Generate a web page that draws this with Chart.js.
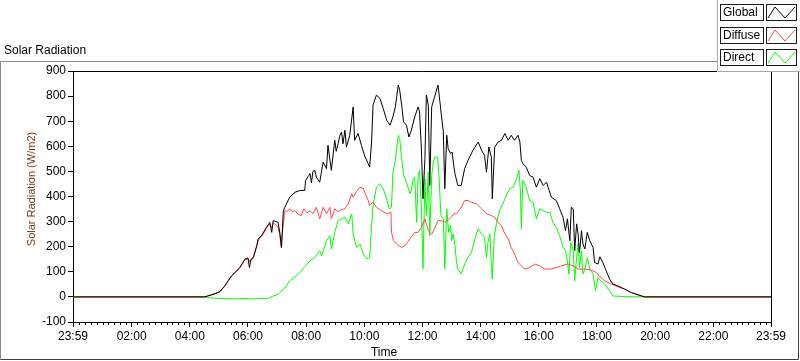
<!DOCTYPE html>
<html>
<head>
<meta charset="utf-8">
<script src="https://cdn.jsdelivr.net/npm/chart.js@4.4.1/dist/chart.umd.min.js"></script>
<style>
  html, body { margin: 0; padding: 0; background: #fff; }
  canvas { display: block; }
</style>
</head>
<body>
<canvas id="canvas" width="800" height="361"></canvas>
<script>
// tick labels of the time axis (first one is the previous day's 23:59)
const xTickLabels = ['23:59', '02:00', '04:00', '06:00', '08:00', '10:00', '12:00',
    '14:00', '16:00', '18:00', '20:00', '22:00', '23:59'];

// Global radiation (W/m2)
const globalTimes = ['00:00', '04:31', '04:52', '05:02', '05:12', '05:19', '05:26', '05:33', '05:43', '05:54',
    '06:00', '06:03', '06:06', '06:11', '06:18', '06:21', '06:28', '06:38', '06:45', '06:49', '06:52',
    '07:02', '07:06', '07:09', '07:13', '07:16', '07:26', '07:37', '07:47', '07:57', '07:59',
    '08:08', '08:11', '08:14', '08:18', '08:21', '08:28', '08:35', '08:42', '08:45', '08:52', '08:59',
    '09:02', '09:06', '09:09', '09:13', '09:16', '09:20', '09:23', '09:30', '09:37', '09:40', '09:47', '09:54',
    '10:01', '10:08', '10:11', '10:15', '10:18', '10:25', '10:32', '10:39', '10:46', '10:53', '10:59',
    '11:04', '11:10', '11:13', '11:17', '11:21', '11:27', '11:32', '11:37', '11:44', '11:51', '11:54', '11:58',
    '12:01', '12:05', '12:08', '12:12', '12:15', '12:19', '12:25', '12:32', '12:36', '12:39', '12:43', '12:46',
    '12:50', '12:53', '12:58', '13:01', '13:05', '13:07', '13:13', '13:20', '13:27', '13:34', '13:44', '13:55',
    '14:02', '14:08', '14:12', '14:17', '14:22', '14:24', '14:29', '14:36', '14:43', '14:50', '14:57',
    '15:03', '15:10', '15:17', '15:21', '15:24', '15:27', '15:34', '15:41', '15:48', '15:55',
    '16:02', '16:09', '16:16', '16:19', '16:26', '16:36', '16:43', '16:50', '16:55', '16:59',
    '17:04', '17:07', '17:11', '17:14', '17:18', '17:21', '17:24', '17:28', '17:31', '17:35', '17:40', '17:45',
    '17:52', '17:55', '18:02', '18:06', '18:12', '18:19', '18:26', '18:33', '18:43', '18:57',
    '19:11', '19:25', '19:38', '23:59'];
const globalValues = [0, 0, 13, 21, 44, 64, 84, 97, 117, 151,
    155, 117, 150, 157, 204, 231, 244, 277, 297, 257, 304,
    297, 252, 197, 344, 357, 397, 417, 424, 424, 464,
    491, 455, 500, 504, 477, 457, 537, 511, 604, 504, 624,
    580, 611, 640, 657, 610, 664, 597, 644, 757, 624, 651, 604,
    560, 531, 517, 617, 764, 804, 791, 751, 704, 684, 717,
    757, 844, 824, 764, 697, 684, 637, 664, 717, 757, 737, 577,
    391, 551, 804, 764, 444, 757, 797, 844, 777, 724, 657, 431,
    644, 591, 571, 577, 517, 491, 444, 444, 511, 544, 584, 617,
    584, 564, 497, 597, 557, 391, 597, 617, 624, 651, 624,
    644, 624, 644, 617, 544, 531, 517, 484, 477, 437,
    471, 444, 457, 437, 397, 384, 351, 317, 264, 311,
    224, 357, 351, 184, 291, 251, 177, 264, 211, 191, 257, 224,
    197, 137, 131, 160, 137, 104, 71, 51, 44, 31,
    17, 8, 0, 0];

// Diffuse radiation (W/m2)
const diffuseTimes = ['00:00', '04:31', '04:52', '05:02', '05:12', '05:19', '05:26', '05:33', '05:43', '05:54',
    '06:00', '06:04', '06:11', '06:18', '06:21', '06:28', '06:38', '06:45', '06:49', '06:52',
    '07:02', '07:06', '07:09', '07:11', '07:16', '07:21', '07:26', '07:32', '07:37', '07:43', '07:50', '07:55',
    '08:02', '08:08', '08:14', '08:21', '08:28', '08:35', '08:42', '08:49', '08:52', '08:59',
    '09:06', '09:13', '09:20', '09:27', '09:34', '09:37', '09:44', '09:51', '09:58',
    '10:01', '10:05', '10:08', '10:11', '10:18', '10:25', '10:35', '10:46', '10:55', '10:56',
    '11:00', '11:06', '11:17', '11:24', '11:34', '11:44', '11:51', '11:58',
    '12:05', '12:12', '12:19', '12:25', '12:32', '12:39', '12:46', '12:56',
    '13:05', '13:10', '13:20', '13:27', '13:34', '13:41', '13:51',
    '14:02', '14:12', '14:22', '14:29', '14:36', '14:43', '14:50', '14:57',
    '15:03', '15:10', '15:17', '15:24', '15:31', '15:41', '15:52',
    '16:02', '16:12', '16:26', '16:36', '16:47', '17:00', '17:11', '17:21', '17:35', '17:48', '17:59',
    '18:06', '18:16', '18:30', '18:43', '18:57', '19:11', '19:25', '19:38', '23:59'];
const diffuseValues = [0, 0, 12, 20, 42, 62, 82, 95, 115, 148,
    152, 140, 155, 200, 225, 240, 272, 290, 275, 295,
    280, 240, 197, 255, 344, 340, 351, 338, 344, 330, 324, 351,
    335, 344, 331, 357, 311, 357, 331, 357, 311, 351,
    340, 348, 351, 371, 411, 397, 420, 437, 431,
    417, 397, 384, 364, 377, 357, 344, 331, 337, 257,
    225, 211, 197, 204, 231, 257, 257, 277,
    311, 264, 251, 271, 304, 304, 297, 311,
    331, 331, 357, 384, 384, 377, 371,
    351, 331, 324, 317, 297, 284, 251, 231,
    197, 171, 137, 124, 111, 117, 131,
    124, 111, 111, 117, 124, 131, 124, 111, 111, 107, 97,
    80, 64, 51, 40, 31, 17, 8, 0, 0];

// Direct radiation (W/m2)
const directTimes = ['00:00', '04:31', '04:35', '04:52', '05:12', '05:33', '05:54', '06:04', '06:18', '06:28',
    '06:38', '06:45', '06:52', '07:02', '07:06', '07:16', '07:26', '07:37', '07:47', '07:57',
    '08:08', '08:18', '08:28', '08:32', '08:42', '08:49', '08:52', '08:59',
    '09:06', '09:13', '09:20', '09:27', '09:34', '09:37', '09:44', '09:51', '09:58',
    '10:05', '10:11', '10:15', '10:18', '10:25', '10:32', '10:39', '10:46', '10:51', '10:56', '10:59',
    '11:04', '11:10', '11:13', '11:17', '11:21', '11:27', '11:34', '11:37', '11:41', '11:44', '11:48',
    '11:51', '11:54', '11:58', '12:01', '12:05', '12:08', '12:12', '12:15', '12:19', '12:22', '12:25',
    '12:31', '12:34', '12:38', '12:43', '12:46', '12:50', '12:54', '12:58',
    '13:00', '13:03', '13:07', '13:10', '13:13', '13:20', '13:27', '13:34', '13:41', '13:48', '13:55',
    '14:02', '14:08', '14:12', '14:15', '14:19', '14:22', '14:24', '14:28', '14:33', '14:39', '14:46', '14:53',
    '15:00', '15:07', '15:14', '15:19', '15:22', '15:24', '15:27', '15:34', '15:41', '15:48', '15:55',
    '16:02', '16:09', '16:16', '16:23', '16:29', '16:36', '16:43', '16:50', '16:55', '16:59',
    '17:02', '17:06', '17:11', '17:14', '17:18', '17:21', '17:24', '17:28', '17:31', '17:35', '17:40',
    '17:45', '17:52', '17:57', '18:02', '18:08', '18:16', '18:26', '18:33', '18:57', '19:38', '23:59'];
const directValues = [0, 0, -3, -5, -7, -8, -6, -8, -7, -5,
    -8, -3, 4, 10, 18, 35, 64, 80, 97, 120,
    144, 157, 184, 164, 224, 244, 191, 257,
    304, 311, 317, 291, 331, 251, 197, 211, 171,
    151, 155, 284, 364, 437, 451, 431, 391, 351, 357, 497,
    544, 644, 631, 551, 484, 457, 411, 424, 471, 477, 297,
    484, 504, 337, 112, 471, 324, 497, 244, 484, 531, 557,
    557, 484, 324, 311, 111, 351, 257, 284,
    224, 251, 205, 144, 111, 91, 131, 157, 177, 231, 271,
    251, 237, 157, 217, 251, 131, 71, 237, 297, 344, 371, 404,
    431, 437, 471, 504, 424, 271, 464, 437, 384, 377, 311,
    351, 344, 337, 337, 297, 277, 244, 197, 184, 144,
    91, 217, 184, 64, 157, 211, 117, 184, 91, 111, 157,
    111, 91, 24, 77, 64, 51, 24, 4, 1, 0, 0];

function toMinutes(t) {
    const p = t.split(':');
    return Number(p[0]) * 60 + Number(p[1]);
}
function toPoints(times, values) {
    return times.map((t, i) => ({ x: toMinutes(t), y: values[i] }));
}

const FONT = 'Liberation Sans';
Chart.defaults.font.family = FONT;
Chart.defaults.font.size = 12;
Chart.defaults.color = '#000';

// frame, titles, minor ticks and the legend panel
const framePlugin = {
    id: 'frame',
    beforeDraw(chart) {
        const ctx = chart.ctx;
        ctx.save();
        ctx.fillStyle = '#fff';
        ctx.fillRect(0, 0, chart.width, chart.height);
        ctx.restore();
    },
    afterDraw(chart) {
        const { ctx, chartArea: a } = chart;
        const xs = chart.scales.x;
        ctx.save();
        ctx.lineWidth = 1;

        // top and right border of the plot
        ctx.strokeStyle = '#000';
        ctx.beginPath();
        ctx.moveTo(a.left, Math.round(a.top) + 0.5);
        ctx.lineTo(Math.round(a.right) + 0.5, Math.round(a.top) + 0.5);
        ctx.lineTo(Math.round(a.right) + 0.5, a.bottom);
        ctx.stroke();

        // minor ticks on time axis, every 12 min
        ctx.beginPath();
        for (let m = 12; m < 1439; m += 12) {
            if (m % 120 === 0) continue;
            const px = Math.round(xs.getPixelForValue(m)) + 0.5;
            ctx.moveTo(px, a.bottom);
            ctx.lineTo(px, a.bottom + 3);
        }
        ctx.stroke();

        // outer frame
        ctx.strokeStyle = '#8a8a8a';
        ctx.beginPath();
        ctx.moveTo(717, 61.5);
        ctx.lineTo(0.5, 61.5);
        ctx.lineTo(0.5, 359.5);
        ctx.stroke();
        ctx.strokeStyle = '#404040';
        ctx.beginPath();
        ctx.moveTo(0.5, 359.5);
        ctx.lineTo(798.5, 359.5);
        ctx.lineTo(798.5, 72);
        ctx.stroke();

        // titles
        ctx.fillStyle = '#000';
        ctx.textBaseline = 'middle';
        ctx.textAlign = 'left';
        ctx.font = '12px "' + FONT + '"';
        ctx.fillText('Solar Radiation', 4, 51);
        ctx.textAlign = 'center';
        ctx.fillText('Time', 384, 353);
        ctx.save();
        ctx.translate(32, 189);
        ctx.rotate(-Math.PI / 2);
        ctx.fillStyle = '#7a3a10';
        ctx.font = '11px "' + FONT + '"';
        ctx.fillText('Solar Radiation (W/m2)', 0, 0);
        ctx.restore();

        // legend panel
        ctx.fillStyle = '#fff';
        ctx.fillRect(717, 0, 83, 72);
        ctx.strokeStyle = '#a8a8a8';
        ctx.beginPath();
        ctx.moveTo(717.5, 0);
        ctx.lineTo(717.5, 71.5);
        ctx.lineTo(800, 71.5);
        ctx.stroke();

        const rowTops = [4, 27, 49];
        chart.data.datasets.forEach((ds, i) => {
            const top = rowTops[i];
            ctx.strokeStyle = '#1a1a1a';
            ctx.strokeRect(720.5, top + 0.5, 43, 16);
            ctx.strokeRect(766.5, top + 0.5, 30, 16);
            ctx.fillStyle = '#000';
            ctx.textAlign = 'left';
            ctx.font = '12px "' + FONT + '"';
            ctx.fillText(ds.label, 723, top + 9);
            ctx.strokeStyle = ds.borderColor;
            ctx.beginPath();
            ctx.moveTo(768, top + 14);
            ctx.lineTo(775, top + 3);
            ctx.lineTo(785, top + 14);
            ctx.lineTo(795, top + 3);
            ctx.stroke();
        });
        ctx.restore();
    }
};

const config = {
    type: 'line',
    data: {
        datasets: [
            { label: 'Global', data: toPoints(globalTimes, globalValues), borderColor: '#000000' },
            { label: 'Diffuse', data: toPoints(diffuseTimes, diffuseValues), borderColor: '#ff4848' },
            { label: 'Direct', data: toPoints(directTimes, directValues), borderColor: '#00ff00' }
        ]
    },
    options: {
        responsive: false,
        animation: false,
        layout: { padding: { left: 0, top: 71, right: 29, bottom: 0 } },
        elements: {
            line: { borderWidth: 1, tension: 0 },
            point: { radius: 0 }
        },
        plugins: {
            legend: { display: false },
            tooltip: { enabled: false }
        },
        scales: {
            x: {
                type: 'linear',
                min: -1,
                max: 1439,
                afterBuildTicks: (scale) => {
                    scale.ticks = xTickLabels.map((l, i) => ({ value: i === 0 ? -1 : toMinutes(l) }));
                },
                afterFit: (scale) => { scale.height = 39; },
                ticks: {
                    autoSkip: false,
                    maxRotation: 0,
                    padding: 2,
                    callback: (value, index) => xTickLabels[index]
                },
                grid: { drawOnChartArea: false, tickLength: 5, color: '#000' },
                border: { color: '#000', width: 1 }
            },
            y: {
                min: -100,
                max: 900,
                afterFit: (scale) => { scale.width = 73; },
                ticks: { stepSize: 100, padding: 2 },
                grid: { drawOnChartArea: false, tickLength: 5, color: '#000' },
                border: { color: '#000', width: 1 }
            }
        }
    },
    plugins: [framePlugin]
};

const canvas = document.getElementById('canvas');
const chart = new Chart(canvas, config);
</script>
</body>
</html>
